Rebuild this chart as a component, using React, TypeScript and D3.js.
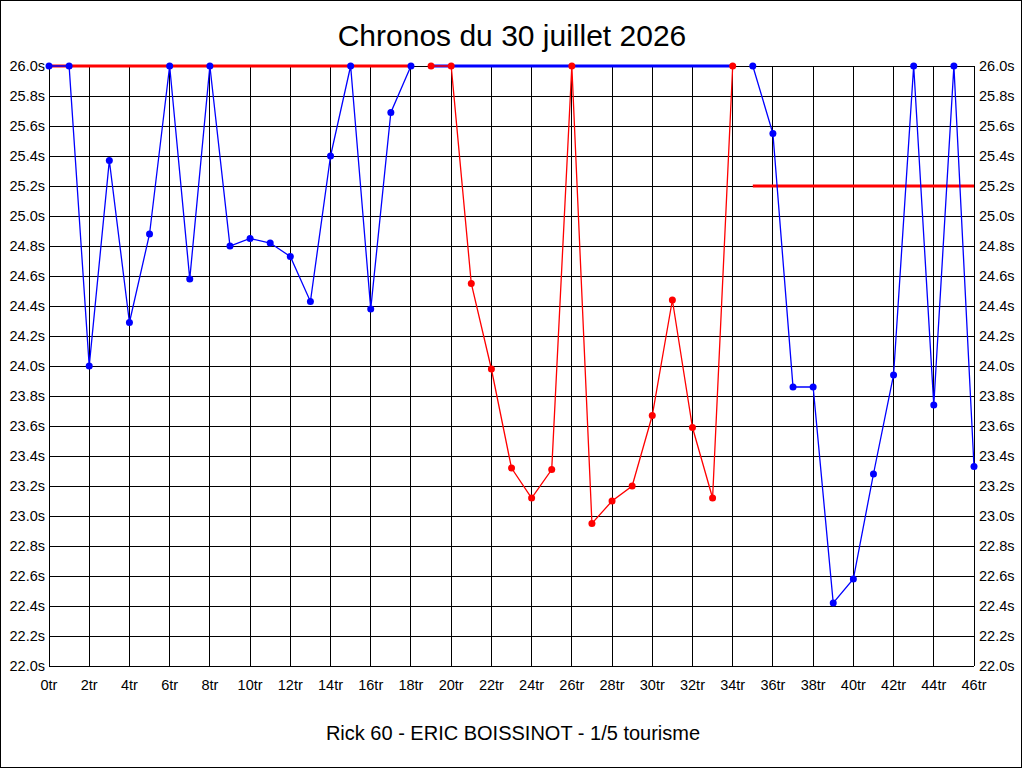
import React from 'react';
import * as d3 from 'd3';

// lap times (s), one array per stint; values at 26.0 are clipped at the top
const stint1 = [26.0, 26.0, 24.0, 25.37, 24.29, 24.88, 26.0, 24.58, 26.0, 24.8, 24.85, 24.82, 24.73, 24.43, 25.4, 26.0, 24.38, 25.69, 26.0];
const stint2 = [26.0, 26.0, 24.55, 23.98, 23.32, 23.12, 23.31, 26.0, 22.95, 23.1, 23.2, 23.67, 24.44, 23.59, 23.12, 26.0];
const stint3 = [26.0, 25.55, 23.86, 23.86, 22.42, 22.58, 23.28, 23.94, 26.0, 23.74, 26.0, 23.33];
const stintStart = [0, 19, 35];
const stintColor = ['#0000ff', '#ff0000', '#0000ff'];
const refValue = [26.0, 26.0, 25.2];
const refColor = ['#ff0000', '#0000ff', '#ff0000'];

const xTicks = [0, 2, 4, 6, 8, 10, 12, 14, 16, 18, 20, 22, 24, 26, 28, 30, 32, 34, 36, 38, 40, 42, 44, 46];
const yTicks = [22.0, 22.2, 22.4, 22.6, 22.8, 23.0, 23.2, 23.4, 23.6, 23.8, 24.0, 24.2, 24.4, 24.6, 24.8, 25.0, 25.2, 25.4, 25.6, 25.8, 26.0];

const title = 'Chronos du 30 juillet 2026';
const subtitle = 'Rick 60 - ERIC BOISSINOT - 1/5 tourisme';

const W = 1024;
const H = 768;
const margin = { top: 66, right: 50, bottom: 102, left: 49 };
const font = '"Liberation Sans", Arial, sans-serif';

export default function App() {
    const x = d3.scaleLinear().domain([0, 46]).range([margin.left, W - margin.right]);
    const y = d3.scaleLinear().domain([22, 26]).range([H - margin.bottom, margin.top]);

    const stints = [stint1, stint2, stint3].map((vals, i) =>
        vals.map((v, j) => ({ lap: stintStart[i] + j, v }))
    );

    const line = d3.line<{ lap: number; v: number }>()
        .x(d => x(d.lap))
        .y(d => y(d.v));

    return (
        <svg width={W} height={H} style={{ position: 'absolute', left: 0, top: 0, display: 'block' }}>
            <rect x={0} y={0} width={W} height={H} fill="#fff" />
            <rect x={0.5} y={0.5} width={W - 3} height={H - 1} fill="none" stroke="#000" />

            <text x={512} y={46} textAnchor="middle" fontFamily={font} fontSize={30} fill="#000">{title}</text>
            <text x={513} y={740} textAnchor="middle" fontFamily={font} fontSize={20} fill="#000">{subtitle}</text>

            {/* grid */}
            <g stroke="#000" strokeWidth={1} shapeRendering="crispEdges">
                {yTicks.map(t => (
                    <line key={'h' + t} x1={x(0)} x2={x(46)} y1={y(t)} y2={y(t)} />
                ))}
                {xTicks.map(t => (
                    <line key={'v' + t} x1={x(t)} x2={x(t)} y1={y(22)} y2={y(26)} />
                ))}
            </g>

            {/* tick labels */}
            <g fontFamily={font} fontSize={14.5} fill="#000">
                {yTicks.map(t => (
                    <text key={'l' + t} x={x(0) - 4} y={y(t) + 5} textAnchor="end">{t.toFixed(1) + 's'}</text>
                ))}
                {yTicks.map(t => (
                    <text key={'r' + t} x={x(46) + 5} y={y(t) + 5} textAnchor="start">{t.toFixed(1) + 's'}</text>
                ))}
                {xTicks.map(t => (
                    <text key={'x' + t} x={x(t)} y={y(22) + 24} textAnchor="middle">{t + 'tr'}</text>
                ))}
            </g>

            {/* reference lines per stint */}
            {stints.map((s, i) => (
                <line key={'ref' + i}
                    x1={x(s[0].lap)} x2={x(s[s.length - 1].lap)}
                    y1={y(refValue[i])} y2={y(refValue[i])}
                    stroke={refColor[i]} strokeWidth={3} />
            ))}

            {/* lap times */}
            {stints.map((s, i) => (
                <g key={'s' + i}>
                    <path d={line(s) || ''} fill="none" stroke={stintColor[i]} strokeWidth={1.3} />
                    {s.map(d => (
                        <circle key={d.lap} cx={x(d.lap)} cy={y(d.v)} r={3.5} fill={stintColor[i]} />
                    ))}
                </g>
            ))}
        </svg>
    );
}
